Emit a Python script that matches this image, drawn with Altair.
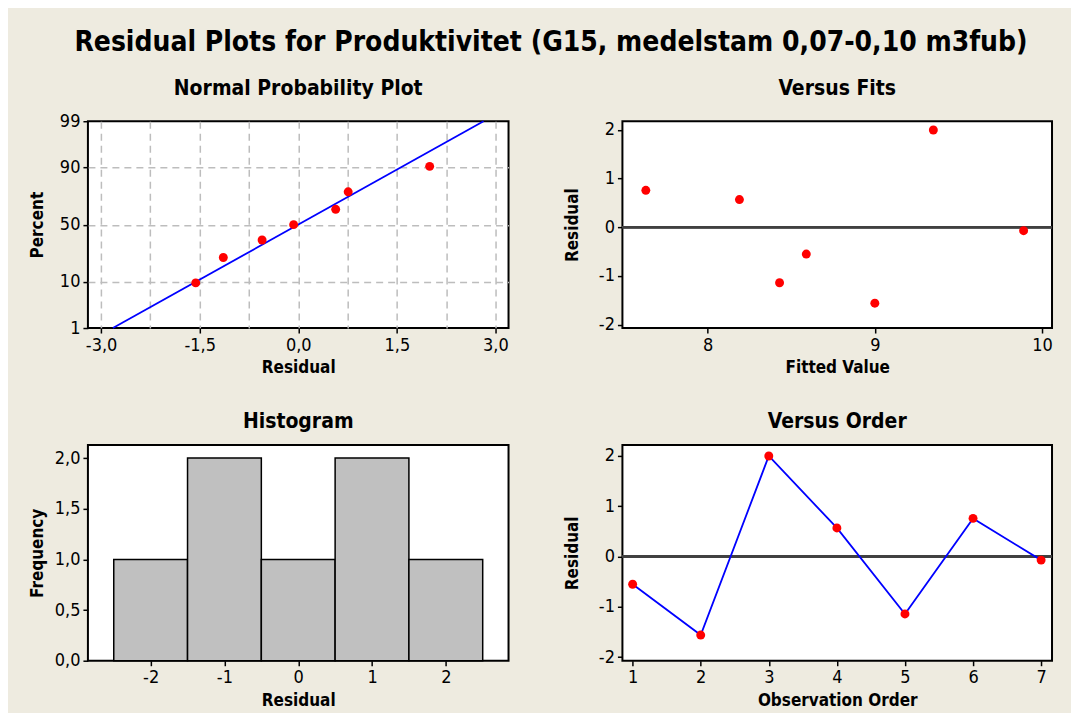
import altair as alt
import pandas as pd
from statistics import NormalDist

# ---------------- data ----------------
observation = [1, 2, 3, 4, 5, 6, 7]
residuals = [-0.55, -1.56, 2.00, 0.57, -1.14, 0.76, -0.07]
fitted = [8.59, 9.00, 9.35, 8.19, 8.43, 7.63, 9.89]

npp_residual = [-1.56, -1.14, -0.55, -0.07, 0.57, 0.76, 2.00]
npp_percent = [9.5, 23.0, 36.5, 50.0, 63.5, 77.0, 90.5]
fit_residual = [-2.82, 2.82]
fit_percent = [1, 99]

bin_start = [-2.5, -1.5, -0.5, 0.5, 1.5]
bin_end = [-1.5, -0.5, 0.5, 1.5, 2.5]
frequency = [1, 2, 1, 2, 1]

percent_ticks = [1, 10, 50, 90, 99]
npp_x_grid = [-3.0, -2.25, -1.5, -0.75, 0.0, 0.75, 1.5, 2.25, 3.0]

# ---------------- style ----------------
FONT = "'DejaVu Sans Condensed', 'DejaVu Sans', sans-serif"
BG = "#EEEBE0"
RED = "#FF0000"
BLUE = "#0000FF"

nd = NormalDist()
z = lambda p: nd.inv_cdf(p / 100.0)

npp_df = pd.DataFrame({"residual": npp_residual, "z": [z(p) for p in npp_percent]})
fit_df = pd.DataFrame({"residual": fit_residual, "z": [z(p) for p in fit_percent]})
obs_df = pd.DataFrame({"order": observation, "residual": residuals, "fitted": fitted})
hist_df = pd.DataFrame({"start": bin_start, "end": bin_end, "freq": frequency})

zt = [z(p) for p in percent_ticks]
pct_label = " : ".join(
    f"abs(datum.value - ({v:.6f})) < 0.001 ? '{p}'" for v, p in zip(zt, percent_ticks)
) + " : ''"

INT_LABEL = "toString(datum.value)"
DEC_LABEL = "replace(replace(format(datum.value, '.1f'), '.', ','), '\u2212', '-')"

Y_EXT = 36
X_EXT = 26


def yaxis(**kw):
    base = dict(minExtent=Y_EXT, maxExtent=Y_EXT, titlePadding=5)
    base.update(kw)
    return alt.Axis(**base)


def xaxis(**kw):
    base = dict(minExtent=X_EXT, maxExtent=X_EXT, titlePadding=6)
    base.update(kw)
    return alt.Axis(**base)


def sub_title(t, off=13):
    return alt.TitleParams(
        t, fontSize=21, font=FONT, fontWeight="bold", offset=off, frame="group"
    )


# ---- Normal probability plot ----
x_npp = alt.X(
    "residual:Q",
    title="Residual",
    scale=alt.Scale(domain=[-3.2, 3.2], nice=False, zero=False),
    axis=xaxis(
        values=npp_x_grid,
        grid=True,
        gridDash=[7, 5],
        gridColor="#BDBDBD",
        gridWidth=1.5,
        tickOpacity={"condition": {"test": "abs(datum.value % 1.5) < 0.01", "value": 1}, "value": 0},
        labelExpr="abs(datum.value % 1.5) < 0.01 ? " + DEC_LABEL + " : ''",
    ),
)
y_npp = alt.Y(
    "z:Q",
    title="Percent",
    scale=alt.Scale(domain=[zt[0], zt[-1]], nice=False, zero=False),
    axis=yaxis(
        values=zt,
        grid=True,
        gridDash=[7, 5],
        gridColor="#BDBDBD",
        gridWidth=1.5,
        gridOpacity={"condition": {"test": "abs(datum.value) > 2.3", "value": 0}, "value": 1},
        labelExpr=pct_label,
    ),
)
npp_line = alt.Chart(fit_df).mark_line(color=BLUE, strokeWidth=1.8).encode(x=x_npp, y=y_npp)
npp_pts = alt.Chart(npp_df).mark_circle(color=RED, size=80, opacity=1).encode(x=x_npp, y=y_npp)
npp = alt.layer(npp_line, npp_pts).properties(
    width=421, height=207, title=sub_title("Normal Probability Plot", 13)
)

# ---- Versus fits ----
x_fit = alt.X(
    "fitted:Q",
    title="Fitted Value",
    scale=alt.Scale(domain=[7.49, 10.06], nice=False, zero=False),
    axis=xaxis(values=[8, 9, 10], labelExpr=INT_LABEL),
)
y_res_fit = alt.Y(
    "residual:Q",
    title="Residual",
    scale=alt.Scale(domain=[-2.07, 2.18], nice=False, zero=False),
    axis=yaxis(values=[-2, -1, 0, 1, 2], labelExpr=INT_LABEL),
)
fit_zero = alt.Chart(obs_df).mark_rule(color="#404040", strokeWidth=2).encode(y=alt.datum(0))
fit_pts = alt.Chart(obs_df).mark_circle(color=RED, size=80, opacity=1).encode(x=x_fit, y=y_res_fit)
vfits = alt.layer(fit_zero, fit_pts).properties(
    width=430, height=207, title=sub_title("Versus Fits", 22)
)

# ---- Histogram ----
x_hist = alt.X(
    "start:Q",
    title="Residual",
    scale=alt.Scale(domain=[-2.85, 2.85], nice=False, zero=False),
    axis=xaxis(values=[-2, -1, 0, 1, 2], labelExpr=INT_LABEL),
)
y_hist = alt.Y(
    "freq:Q",
    title="Frequency",
    scale=alt.Scale(domain=[0, 2.13], nice=False),
    axis=yaxis(values=[0, 0.5, 1, 1.5, 2], labelExpr=DEC_LABEL),
)
hist = (
    alt.Chart(hist_df)
    .mark_rect(fill="#C0C0C0", stroke="black", strokeWidth=1.5)
    .encode(x=x_hist, x2="end:Q", y=y_hist, y2=alt.datum(0))
    .properties(width=421, height=216, title=sub_title("Histogram", 13))
)

# ---- Versus order ----
x_ord = alt.X(
    "order:Q",
    title="Observation Order",
    scale=alt.Scale(domain=[0.85, 7.16], nice=False, zero=False),
    axis=xaxis(values=observation, labelExpr=INT_LABEL),
)
y_res_ord = alt.Y(
    "residual:Q",
    title="Residual",
    scale=alt.Scale(domain=[-2.07, 2.22], nice=False, zero=False),
    axis=yaxis(values=[-2, -1, 0, 1, 2], labelExpr=INT_LABEL),
)
ord_zero = alt.Chart(obs_df).mark_rule(color="#404040", strokeWidth=2).encode(y=alt.datum(0))
ord_line = alt.Chart(obs_df).mark_line(color=BLUE, strokeWidth=1.8).encode(x=x_ord, y=y_res_ord)
ord_pts = alt.Chart(obs_df).mark_circle(color=RED, size=80, opacity=1).encode(x=x_ord, y=y_res_ord)
vorder = alt.layer(ord_zero, ord_line, ord_pts).properties(
    width=430, height=216, title=sub_title("Versus Order", 13)
)

row1 = alt.hconcat(npp, vfits, spacing=53)
row2 = alt.hconcat(hist, vorder, spacing=53)

chart = (
    alt.vconcat(row1, row2, spacing=33)
    .properties(
        title=alt.TitleParams(
            "Residual Plots for Produktivitet (G15, medelstam 0,07-0,10 m3fub)",
            fontSize=28,
            font=FONT,
            fontWeight="bold",
            anchor="middle",
            offset=20,
            dx=10,
        ),
        background=BG,
        padding={"left": 20, "top": 20, "right": 17, "bottom": 3},
    )
    .configure_view(stroke="black", strokeWidth=2, fill="white")
    .configure_axis(
        labelFont=FONT,
        titleFont=FONT,
        labelFontSize=18,
        titleFontSize=17,
        titleFontWeight="bold",
        labelColor="black",
        titleColor="black",
        tickColor="black",
        tickSize=5,
        tickWidth=1.5,
        labelPadding=3,
        domain=False,
        grid=False,
    )
    .configure_title(color="black")
)

chart.save("out.html", embed_options={"renderer": "svg", "actions": False})
